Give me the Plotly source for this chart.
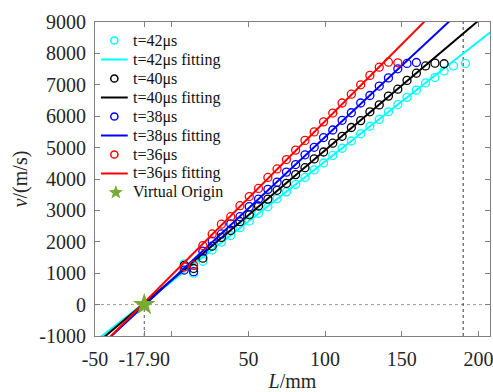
import math
import plotly.graph_objects as go

# ---- data ----
L_grid = [8.2, 14.3, 20.3, 26.4, 32.4, 38.5, 44.5, 50.6, 56.6, 62.7, 68.7, 74.8,
          80.8, 86.9, 92.9, 99.0, 105.0, 111.1, 117.1, 123.2, 129.2, 135.3, 141.3,
          147.4, 153.4, 159.5, 165.5, 171.6, 177.6, 183.7, 191.5]

v_42 = [1300, 1000, 1380, 1740, 1990, 2200, 2450, 2660, 2910, 3120, 3370, 3590,
        3830, 4050, 4290, 4510, 4750, 4980, 5210, 5440, 5680, 5900, 6140, 6370,
        6600, 6830, 7060, 7230, 7440, 7600, 7680]
v_40 = [1250, 1150, 1480, 1860, 2140, 2360, 2640, 2860, 3140, 3360, 3640, 3860,
        4140, 4360, 4640, 4860, 5140, 5360, 5640, 5860, 6140, 6360, 6640, 6860,
        7140, 7370, 7600, 7690, 7670]
v_38 = [1100, 1050, 1700, 2020, 2250, 2570, 2800, 3120, 3360, 3670, 3900, 4220,
        4460, 4770, 5010, 5320, 5560, 5870, 6110, 6420, 6660, 6960, 7220, 7510,
        7680, 7710]
v_36 = [1200, 1250, 1880, 2250, 2560, 2800, 3150, 3440, 3700, 4050, 4320, 4620,
        4920, 5230, 5500, 5820, 6100, 6420, 6700, 7000, 7300, 7560, 7720, 7700]

series_names = ["t=42μs", "t=40μs", "t=38μs", "t=36μs"]
series_values = [v_42, v_40, v_38, v_36]
series_colors = ["#00FFFF", "#000000", "#0000FF", "#FF0000"]

# linear fits  v = slope * (L - zero)
fit_slope = [38.2, 41.3, 45.5, 49.0]
fit_zero = [-19.3, -19.0, -17.3, -19.2]
fit_span = [-60, 230]

origin_name = "Virtual Origin"
origin_color = "#77AC30"
origin_L = -17.90
origin_v = 0
marker_L = 190

x_tickvals = [-50, -17.9, 0, 50, 100, 150, 200]
x_ticktext = ["-50", "-17.90", "", "50", "100", "150", "200"]
y_tickvals = [-1000, 0, 1000, 2000, 3000, 4000, 5000, 6000, 7000, 8000, 9000]
y_ticktext = [str(v) for v in y_tickvals]

x_range = [-50, 207.5]
y_range = [-1000, 9000]

FONT = "Liberation Serif, Times New Roman, serif"
TEXT = "#262626"

# layout geometry (pixels)
W, H = 493, 392
M_L, M_R, M_T, M_B = 95, 0, 22, 56
PW, PH = W - M_L - M_R, H - M_T - M_B


def paper_x(px):
    return (px - M_L) / PW


def paper_y(py):
    return (M_T + PH - py) / PH


fig = go.Figure()

for name, vals, col, k, z in zip(series_names, series_values, series_colors,
                                 fit_slope, fit_zero):
    fig.add_trace(go.Scatter(
        x=L_grid[:len(vals)], y=vals, mode="markers", name=name,
        marker=dict(symbol="circle-open", size=8, color=col,
                    line=dict(width=1.3, color=col)),
        showlegend=False))
    fx = list(fit_span)
    fy = [k * (xx - z) for xx in fx]
    fig.add_trace(go.Scatter(
        x=fx, y=fy, mode="lines", name=name + " fitting",
        line=dict(color=col, width=2), showlegend=False))

fig.add_trace(go.Scatter(
    x=[origin_L], y=[origin_v], mode="markers", name=origin_name,
    marker=dict(symbol="star", size=17, color=origin_color, line=dict(width=0)),
    showlegend=False))

# reference lines
fig.add_shape(type="line", xref="x", yref="y", x0=x_range[0], x1=x_range[1],
              y0=0, y1=0, line=dict(color="#9a9a9a", width=1, dash="dot"),
              layer="below")
fig.add_shape(type="line", xref="x", yref="y", x0=origin_L, x1=origin_L,
              y0=y_range[0], y1=0, line=dict(color="#555555", width=1, dash="dot"),
              layer="below")
fig.add_shape(type="line", xref="x", yref="y", x0=marker_L, x1=marker_L,
              y0=y_range[0], y1=y_range[1],
              line=dict(color="#333333", width=1, dash="dot"), layer="below")

# ---- legend (drawn as shapes + text, MATLAB-like compact spacing) ----
LEG_Y0, LEG_STEP = 40.5, 19.0
LEG_X_LINE0, LEG_X_LINE1, LEG_X_SYM, LEG_X_TEXT = 101, 128, 114.5, 131.5

entries = []
for name, col in zip(series_names, series_colors):
    entries.append(("marker", name, col))
    entries.append(("line", name + " fitting", col))
entries.append(("star", origin_name, origin_color))

# 5-point star outline (pixel offsets), point up
star_pts = []
for i in range(10):
    r = 7.5 if i % 2 == 0 else 3.1
    a = math.pi / 2 + i * math.pi / 5
    star_pts.append((r * math.cos(a), r * math.sin(a)))
star_path = "M " + " L ".join(f"{x:.2f},{y:.2f}" for x, y in star_pts) + " Z"

for i, (kind, label, col) in enumerate(entries):
    py = LEG_Y0 + i * LEG_STEP
    yp = paper_y(py)
    if kind == "marker":
        fig.add_shape(type="circle", xref="paper", yref="paper",
                      xsizemode="pixel", ysizemode="pixel",
                      xanchor=paper_x(LEG_X_SYM), yanchor=yp,
                      x0=-3.6, x1=3.6, y0=-3.6, y1=3.6,
                      line=dict(color=col, width=1.5))
    elif kind == "line":
        fig.add_shape(type="line", xref="paper", yref="paper",
                      x0=paper_x(LEG_X_LINE0), x1=paper_x(LEG_X_LINE1),
                      y0=yp, y1=yp, line=dict(color=col, width=2))
    else:
        fig.add_shape(type="path", xref="paper", yref="paper",
                      xsizemode="pixel", ysizemode="pixel",
                      xanchor=paper_x(LEG_X_SYM + 1.5), yanchor=yp,
                      path=star_path, fillcolor=col, line=dict(width=0))
    fig.add_annotation(text=label, xref="paper", yref="paper",
                       x=paper_x(LEG_X_TEXT), y=yp, xanchor="left",
                       yanchor="middle", showarrow=False,
                       font=dict(family=FONT, size=16, color="#111111"))

axis_common = dict(showgrid=False, zeroline=False, showline=True,
                   linecolor="#808080", linewidth=1, mirror="ticks",
                   ticks="inside", ticklen=5, tickcolor="#808080",
                   ticklabeloverflow="allow",
                   tickfont=dict(family=FONT, size=20, color=TEXT))

fig.update_xaxes(range=x_range, tickmode="array", tickvals=x_tickvals,
                 ticktext=x_ticktext, ticklabelstandoff=5,
                 title=dict(text="<i>L</i>/mm", standoff=3,
                            font=dict(family=FONT, size=20, color=TEXT)),
                 **axis_common)
fig.update_yaxes(range=y_range, tickmode="array", tickvals=y_tickvals,
                 ticktext=y_ticktext, ticklabelstandoff=4,
                 title=dict(text="<i>v</i>/(m/s)", standoff=6,
                            font=dict(family=FONT, size=20, color=TEXT)),
                 **axis_common)

fig.update_layout(
    width=W, height=H,
    margin=dict(l=M_L, r=M_R, t=M_T, b=M_B),
    paper_bgcolor="white", plot_bgcolor="white",
    showlegend=False,
)

fig.write_html("out.html",
               config={"displayModeBar": False},
               post_script="document.body.style.margin='0';"
                           "document.body.style.overflow='hidden';")
